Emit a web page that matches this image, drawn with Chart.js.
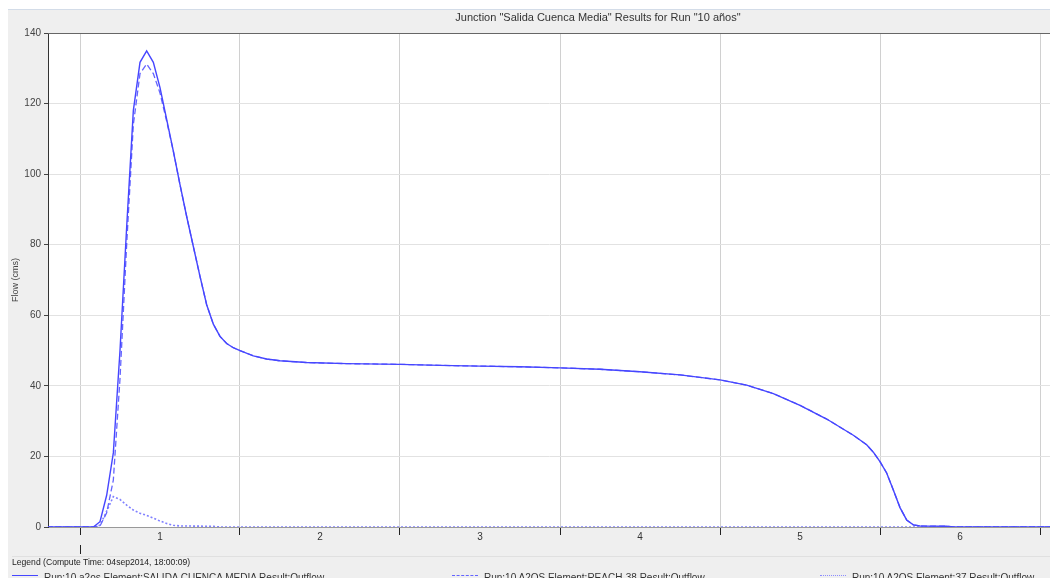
<!DOCTYPE html>
<html>
<head>
<meta charset="utf-8">
<script src="https://cdn.jsdelivr.net/npm/chart.js@4"></script>
<style>
    body { margin: 0; background: #fff; font-family: 'Liberation Sans', Arial, sans-serif; }
    #panel { position: absolute; left: 8px; top: 9px; width: 1042px; height: 569px; background: #efefef; overflow: hidden; }
    #topline { position: absolute; left: 0; right: 0; top: 0; border-top: 1px solid #d3dce8; }
    #chartCanvas { position: absolute; left: 0; top: 0; }
    .title { position: absolute; top: 2px; left: 0; width: 1180px; text-align: center; font-size: 11px; color: #333; }
    .legend-head { position: absolute; left: 4px; top: 548px; font-size: 8.6px; color: #222; }
    .legend-sep { position: absolute; left: 4px; right: 0; top: 547px; border-top: 1px solid #e0e0e0; }
    .legend-item { position: absolute; top: 563px; font-size: 10px; color: #333; white-space: nowrap; }
    .legend-item span { display: inline-block; width: 26px; margin-right: 6px; vertical-align: middle; position: relative; top: -3px; }
</style>
</head>
<body>
<div id="panel">
    <canvas id="chartCanvas" width="1042" height="569"></canvas>
    <div id="topline"></div>
    <div class="title">Junction "Salida Cuenca Media" Results for Run "10 años"</div>
    <div class="legend-sep"></div>
    <div class="legend-head">Legend (Compute Time: 04sep2014, 18:00:09)</div>
    <div class="legend-item" style="left:4px"><span style="border-top:1.5px solid #4646ff"></span>Run:10 a2os Element:SALIDA CUENCA MEDIA Result:Outflow</div>
    <div class="legend-item" style="left:444px"><span style="border-top:1.5px dashed #6464ff"></span>Run:10 A2OS Element:REACH-38 Result:Outflow</div>
    <div class="legend-item" style="left:812px"><span style="border-top:1.5px dotted #8c8cff"></span>Run:10 A2OS Element:37 Result:Outflow</div>
</div>
<script>
// hours since start of day 1
const hours = [-5, 2, 3, 4, 5, 6, 7, 8, 9, 10, 11, 12, 13, 14, 15, 16, 17, 18, 19, 20,
    21, 22, 23, 24, 26, 28, 30, 34, 40, 48, 54, 60, 66, 72, 78, 84, 90, 96, 100, 104,
    108, 112, 116, 118, 119, 120, 121, 122, 123, 124, 125, 126, 130, 131, 146];

const salidaFlow = [0, 0, 1.5, 9, 21, 50, 85, 118, 131.7, 134.9, 131.7, 124.5, 115.5, 106.5, 97, 88, 79.5, 71, 63, 57.5,
    54, 52, 50.8, 50, 48.5, 47.6, 47.1, 46.6, 46.3, 46.1, 45.8, 45.6, 45.4, 45.1, 44.7, 44.0, 43.1, 41.7, 40.2, 37.8,
    34.5, 30.6, 26.0, 23.3, 21.2, 18.5, 15.3, 10.5, 5.5, 2.0, 0.6, 0.3, 0.2, 0, 0];

const reachFlow = [0, 0, 0.3, 4, 13.3, 42, 80, 114, 128.5, 131.2, 128.5, 123, 115, 106.5, 97, 88, 79.5, 71, 63, 57.5,
    54, 52, 50.8, 50, 48.5, 47.6, 47.1, 46.6, 46.3, 46.1, 45.8, 45.6, 45.4, 45.1, 44.7, 44.0, 43.1, 41.7, 40.2, 37.8,
    34.5, 30.6, 26.0, 23.3, 21.2, 18.5, 15.3, 10.5, 5.5, 2.0, 0.6, 0.3, 0.2, 0, 0];

const hours37 = [-5, 2, 3, 4, 5, 6, 7, 8, 9, 10, 11, 12, 13, 14, 15, 20, 21, 146];
const flow37 = [0, 0, 0.5, 4.5, 8.6, 7.8, 6.2, 4.8, 3.9, 3.3, 2.5, 1.7, 1.0, 0.5, 0.3, 0.2, 0, 0];

const dayLabels = ['1', '2', '3', '4', '5', '6'];
const yTicks = [0, 20, 40, 60, 80, 100, 120, 140];

Chart.defaults.font.family = "'Liberation Sans', Arial, sans-serif";

function toPoints(xs, ys) {
    return xs.map((x, i) => ({ x: x, y: ys[i] }));
}

const areaPlugin = {
    id: 'areaPlugin',
    beforeDraw(chart) {
        const a = chart.chartArea;
        const ctx = chart.ctx;
        ctx.save();
        ctx.fillStyle = '#ffffff';
        ctx.fillRect(a.left, a.top, a.right - a.left, a.bottom - a.top);
        ctx.restore();
    },
    afterDraw(chart) {
        const a = chart.chartArea;
        const ctx = chart.ctx;
        ctx.save();
        ctx.strokeStyle = '#666';
        ctx.lineWidth = 1;
        ctx.beginPath();
        ctx.moveTo(a.left, a.top + 0.5);
        ctx.lineTo(a.right, a.top + 0.5);
        ctx.stroke();
        // second-level tick at the start of day 1
        const x0 = Math.round(chart.scales.x.getPixelForValue(0)) + 0.5;
        ctx.beginPath();
        ctx.moveTo(x0, a.bottom + 18);
        ctx.lineTo(x0, a.bottom + 27);
        ctx.strokeStyle = '#222';
        ctx.stroke();
        ctx.restore();
    }
};

new Chart(document.getElementById('chartCanvas'), {
    type: 'line',
    data: {
        datasets: [{
            label: 'Run:10 a2os Element:SALIDA CUENCA MEDIA Result:Outflow',
            data: toPoints(hours, salidaFlow),
            borderColor: '#4646ff',
            borderWidth: 1.4
        }, {
            label: 'Run:10 A2OS Element:REACH-38 Result:Outflow',
            data: toPoints(hours, reachFlow),
            borderColor: '#6464ff',
            borderWidth: 1.3,
            borderDash: [6, 3]
        }, {
            label: 'Run:10 A2OS Element:37 Result:Outflow',
            data: toPoints(hours37, flow37),
            borderColor: '#8080ff',
            borderWidth: 1.6,
            borderDash: [2, 2]
        }]
    },
    options: {
        responsive: false,
        animation: false,
        layout: { padding: { top: 24, left: 0, right: 0, bottom: 0 } },
        elements: { point: { radius: 0 }, line: { tension: 0 } },
        plugins: { legend: { display: false }, tooltip: { enabled: false } },
        scales: {
            x: {
                type: 'linear',
                min: -4.8,
                max: 145.5,
                afterFit: s => { s.height = 51; },
                afterBuildTicks: s => {
                    const t = [];
                    for (let v = 0; v <= 144; v += 12) t.push({ value: v });
                    s.ticks = t;
                },
                border: { color: '#999' },
                grid: {
                    color: c => (c.tick && c.tick.value % 24 === 0) ? '#d0d0d0' : 'rgba(0,0,0,0)',
                    tickColor: c => (c.tick && c.tick.value % 24 === 0) ? '#222' : 'rgba(0,0,0,0)',
                    tickLength: 8
                },
                ticks: {
                    autoSkip: false,
                    maxRotation: 0,
                    padding: -4,
                    color: '#333',
                    font: { size: 10 },
                    callback: v => (v % 24 === 12) ? dayLabels[(v - 12) / 24] : ''
                }
            },
            y: {
                min: 0,
                max: 140,
                afterFit: s => { s.width = 40; },
                afterBuildTicks: s => { s.ticks = yTicks.map(v => ({ value: v })); },
                border: { color: '#333' },
                grid: { color: '#e2e2e2', tickColor: '#444', tickLength: 4 },
                ticks: { color: '#444', font: { size: 10 }, padding: 3 },
                title: { display: true, text: 'Flow (cms)', color: '#444', font: { size: 9 }, padding: { top: 2, bottom: 0 } }
            }
        }
    },
    plugins: [areaPlugin]
});
</script>
</body>
</html>
